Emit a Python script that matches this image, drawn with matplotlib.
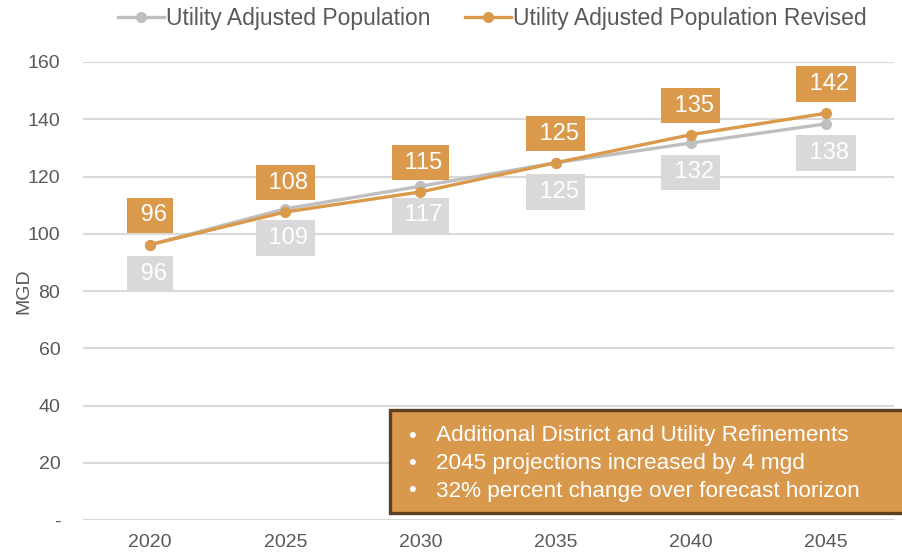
import matplotlib.pyplot as plt
from matplotlib.patches import Rectangle

years = ['2020', '2025', '2030', '2035', '2040', '2045']
utility_adjusted = [96.2, 108.7, 116.6, 124.8, 131.7, 138.4]
utility_revised = [96.2, 107.6, 114.6, 124.8, 134.6, 142.1]
notes = [
    'Additional District and Utility Refinements',
    '2045 projections increased by 4 mgd',
    '32% percent change over forecast horizon',
]

GRAY = '#BFBFBF'
GRAY_BOX = '#D9D9D9'
ORANGE = '#DA994B'
TEXT = '#595959'

plt.rcParams['font.family'] = ['Liberation Sans', 'DejaVu Sans']

fig = plt.figure(figsize=(9.03, 5.56), dpi=100)
ax = fig.add_axes([0.0914, 0.0647, 0.8981, 0.8238])

x = list(range(len(years)))
ax.plot(x, utility_adjusted, color=GRAY, lw=2.4, marker='o', ms=7,
        label='Utility Adjusted Population', zorder=3)
ax.plot(x, utility_revised, color=ORANGE, lw=2.4, marker='o', ms=7,
        label='Utility Adjusted Population Revised', zorder=4)

# data labels: revised above, original below
for xi, v in zip(x, utility_revised):
    ax.annotate(' %d' % round(v), (xi, v), xytext=(0, 21), textcoords='offset points',
                ha='center', va='center', fontsize=17, color='white', zorder=5,
                bbox=dict(boxstyle='square,pad=0.28', fc=ORANGE, ec='none'))
for xi, v in zip(x, utility_adjusted):
    ax.annotate(' %d' % round(v), (xi, v), xytext=(0, -21), textcoords='offset points',
                ha='center', va='center', fontsize=17, color='white', zorder=5,
                bbox=dict(boxstyle='square,pad=0.28', fc=GRAY_BOX, ec='none'))

ax.set_xlim(-0.5, len(years) - 0.5)
ax.set_ylim(0, 160)
ax.set_xticks(x)
ax.set_xticklabels(years)
ax.set_yticks(range(0, 161, 20))
ax.set_yticklabels(['-'] + [str(v) for v in range(20, 161, 20)])
ax.tick_params(length=0, labelsize=14, labelcolor=TEXT)
ax.tick_params(axis='x', pad=10)
ax.tick_params(axis='y', pad=16)
ax.grid(axis='y', color='#D9D9D9', lw=1.5)
ax.set_axisbelow(True)
for s in ax.spines.values():
    s.set_visible(False)
ax.set_ylabel('MGD', fontsize=14, color=TEXT)
ax.yaxis.set_label_coords(-0.062, 0.5)

fig.legend(loc='center', bbox_to_anchor=(0.545, 0.967), ncol=2, frameon=False,
           fontsize=16.5, labelcolor=TEXT, handlelength=2.0, handletextpad=0.1,
           columnspacing=1.5)

# note box
fig.add_artist(Rectangle((390 / 903, 1 - 513 / 556), 520 / 903, 103 / 556,
                         transform=fig.transFigure, fc='#D8994C', ec='#5E4020',
                         lw=2.4, zorder=10))
for i, line in enumerate(notes):
    yy = 1 - (436 + i * 27.5) / 556
    fig.text(408 / 903, yy, '\u2022', color='white', fontsize=16, va='center', zorder=11)
    fig.text(436 / 903, yy, line, color='white', fontsize=16.2, va='center', zorder=11)

plt.savefig('out.png', dpi=100)
